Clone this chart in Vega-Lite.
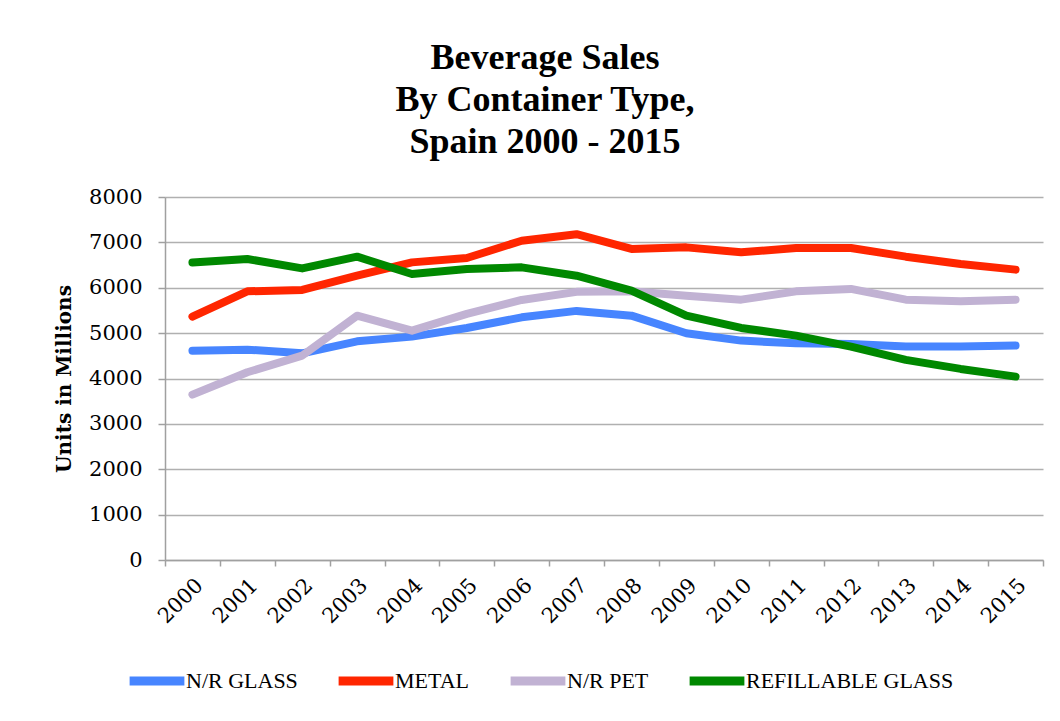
{
  "$schema": "https://vega.github.io/schema/vega-lite/v6.json",
  "width": 878,
  "height": 363,
  "autosize": {"type": "none"},
  "padding": {"left": 165, "top": 197, "right": 17, "bottom": 161},
  "background": "white",
  "title": {
    "text": ["Beverage Sales", "By Container Type,", "Spain 2000 - 2015"],
    "font": "Liberation Serif",
    "fontSize": 36,
    "fontWeight": "bold",
    "lineHeight": 42,
    "color": "#000000",
    "anchor": "middle",
    "frame": "group",
    "dx": -59,
    "offset": 25
  },
  "data": {
    "values": [
      {"year": "2000", "type": "N/R GLASS", "units": 4614},
      {"year": "2001", "type": "N/R GLASS", "units": 4636},
      {"year": "2002", "type": "N/R GLASS", "units": 4555},
      {"year": "2003", "type": "N/R GLASS", "units": 4820},
      {"year": "2004", "type": "N/R GLASS", "units": 4923},
      {"year": "2005", "type": "N/R GLASS", "units": 5114},
      {"year": "2006", "type": "N/R GLASS", "units": 5348},
      {"year": "2007", "type": "N/R GLASS", "units": 5490},
      {"year": "2008", "type": "N/R GLASS", "units": 5385},
      {"year": "2009", "type": "N/R GLASS", "units": 4996},
      {"year": "2010", "type": "N/R GLASS", "units": 4835},
      {"year": "2011", "type": "N/R GLASS", "units": 4775},
      {"year": "2012", "type": "N/R GLASS", "units": 4760},
      {"year": "2013", "type": "N/R GLASS", "units": 4703},
      {"year": "2014", "type": "N/R GLASS", "units": 4703},
      {"year": "2015", "type": "N/R GLASS", "units": 4725},
      {"year": "2000", "type": "METAL", "units": 5363},
      {"year": "2001", "type": "METAL", "units": 5921},
      {"year": "2002", "type": "METAL", "units": 5952},
      {"year": "2003", "type": "METAL", "units": 6266},
      {"year": "2004", "type": "METAL", "units": 6559},
      {"year": "2005", "type": "METAL", "units": 6656},
      {"year": "2006", "type": "METAL", "units": 7037},
      {"year": "2007", "type": "METAL", "units": 7180},
      {"year": "2008", "type": "METAL", "units": 6855},
      {"year": "2009", "type": "METAL", "units": 6890},
      {"year": "2010", "type": "METAL", "units": 6780},
      {"year": "2011", "type": "METAL", "units": 6877},
      {"year": "2012", "type": "METAL", "units": 6877},
      {"year": "2013", "type": "METAL", "units": 6685},
      {"year": "2014", "type": "METAL", "units": 6524},
      {"year": "2015", "type": "METAL", "units": 6399},
      {"year": "2000", "type": "N/R PET", "units": 3645},
      {"year": "2001", "type": "N/R PET", "units": 4137},
      {"year": "2002", "type": "N/R PET", "units": 4504},
      {"year": "2003", "type": "N/R PET", "units": 5385},
      {"year": "2004", "type": "N/R PET", "units": 5055},
      {"year": "2005", "type": "N/R PET", "units": 5423},
      {"year": "2006", "type": "N/R PET", "units": 5731},
      {"year": "2007", "type": "N/R PET", "units": 5910},
      {"year": "2008", "type": "N/R PET", "units": 5921},
      {"year": "2009", "type": "N/R PET", "units": 5826},
      {"year": "2010", "type": "N/R PET", "units": 5738},
      {"year": "2011", "type": "N/R PET", "units": 5921},
      {"year": "2012", "type": "N/R PET", "units": 5974},
      {"year": "2013", "type": "N/R PET", "units": 5738},
      {"year": "2014", "type": "N/R PET", "units": 5701},
      {"year": "2015", "type": "N/R PET", "units": 5738},
      {"year": "2000", "type": "REFILLABLE GLASS", "units": 6559},
      {"year": "2001", "type": "REFILLABLE GLASS", "units": 6634},
      {"year": "2002", "type": "REFILLABLE GLASS", "units": 6427},
      {"year": "2003", "type": "REFILLABLE GLASS", "units": 6685},
      {"year": "2004", "type": "REFILLABLE GLASS", "units": 6304},
      {"year": "2005", "type": "REFILLABLE GLASS", "units": 6414},
      {"year": "2006", "type": "REFILLABLE GLASS", "units": 6450},
      {"year": "2007", "type": "REFILLABLE GLASS", "units": 6266},
      {"year": "2008", "type": "REFILLABLE GLASS", "units": 5936},
      {"year": "2009", "type": "REFILLABLE GLASS", "units": 5385},
      {"year": "2010", "type": "REFILLABLE GLASS", "units": 5114},
      {"year": "2011", "type": "REFILLABLE GLASS", "units": 4945},
      {"year": "2012", "type": "REFILLABLE GLASS", "units": 4703},
      {"year": "2013", "type": "REFILLABLE GLASS", "units": 4410},
      {"year": "2014", "type": "REFILLABLE GLASS", "units": 4211},
      {"year": "2015", "type": "REFILLABLE GLASS", "units": 4042}
    ]
  },
  "mark": {"type": "line", "strokeWidth": 8, "strokeCap": "round", "strokeJoin": "round"},
  "encoding": {
    "x": {
      "field": "year",
      "type": "ordinal",
      "scale": {"type": "band", "paddingInner": 0, "paddingOuter": 0},
      "axis": {
        "title": null,
        "labelAngle": -45,
        "labelAlign": "right",
        "labelBaseline": "middle",
        "labelFont": "DejaVu Serif",
        "labelFontSize": 21,
        "labelColor": "#000000",
        "labelPadding": 16,
        "labelOffset": 7,
        "tickBand": "extent",
        "ticks": true,
        "tickSize": 6,
        "tickColor": "#a0a0a0",
        "tickWidth": 1.5,
        "domainColor": "#a0a0a0",
        "domainWidth": 1.5,
        "grid": false
      }
    },
    "y": {
      "field": "units",
      "type": "quantitative",
      "scale": {"domain": [0, 8000], "nice": false},
      "axis": {
        "title": "Units in Millions",
        "titleFont": "DejaVu Serif",
        "titleFontSize": 20,
        "titleFontWeight": "bold",
        "titleColor": "#000000",
        "titlePadding": 14,
        "values": [0, 1000, 2000, 3000, 4000, 5000, 6000, 7000, 8000],
        "format": "d",
        "labelFont": "DejaVu Serif",
        "labelFontSize": 21,
        "labelColor": "#000000",
        "labelPadding": 16,
        "tickSize": 7,
        "tickColor": "#a0a0a0",
        "tickWidth": 1.5,
        "domainColor": "#a0a0a0",
        "domainWidth": 1.5,
        "grid": true,
        "gridColor": "#b0b0b0",
        "gridWidth": 1.5
      }
    },
    "color": {
      "field": "type",
      "type": "nominal",
      "sort": ["N/R GLASS", "METAL", "N/R PET", "REFILLABLE GLASS"],
      "scale": {
        "domain": ["N/R GLASS", "METAL", "N/R PET", "REFILLABLE GLASS"],
        "range": ["#4785ff", "#ff2600", "#c1b2d3", "#008800"]
      },
      "legend": {
        "title": null,
        "orient": "none",
        "direction": "horizontal",
        "legendX": -40,
        "legendY": 452,
        "symbolType": "stroke",
        "symbolSize": 3000,
        "symbolStrokeWidth": 9,
        "labelFont": "Liberation Serif",
        "labelFontSize": 22,
        "labelColor": "#000000",
        "labelOffset": -3,
        "columnPadding": 22,
        "labelLimit": 400
      }
    }
  },
  "config": {
    "view": {"stroke": null}
  }
}
